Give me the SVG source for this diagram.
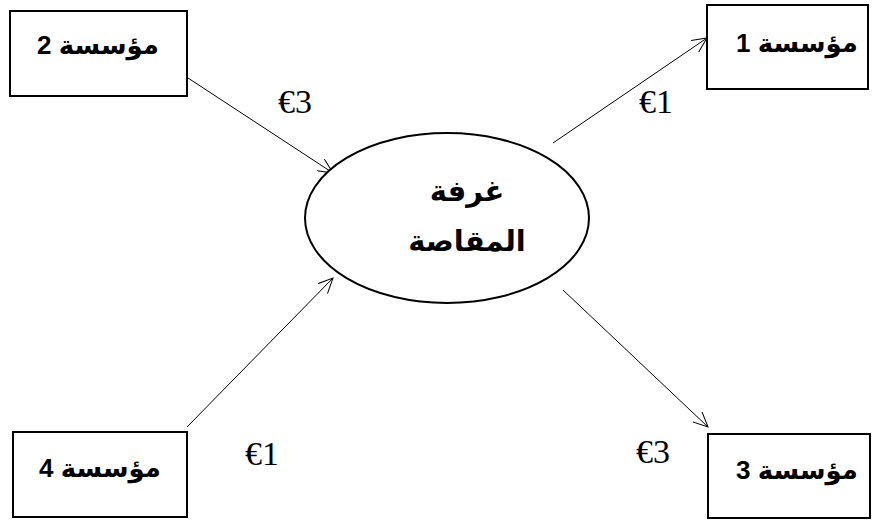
<svg xmlns="http://www.w3.org/2000/svg" width="876" height="521" viewBox="0 0 876 521">
<style>
.box{fill:#fff;stroke:#000;stroke-width:2}
.lbl{font-family:"Liberation Sans","DejaVu Sans",sans-serif;font-weight:bold;font-size:26px;fill:#000;text-anchor:middle}
.big{font-size:29px}
.eu{font-family:"Liberation Serif","Times New Roman",serif;font-size:34px;fill:#000}
.cn{stroke:#000;stroke-width:1;fill:none}
</style>
<defs>
<marker id="arr" viewBox="0 0 16 14" refX="15" refY="7" markerWidth="16" markerHeight="14" markerUnits="userSpaceOnUse" orient="auto">
<path d="M0,0 L15,7 L0,14" fill="none" stroke="#000" stroke-width="1"/>
</marker>
</defs>
<rect width="876" height="521" fill="#fff"/>
<g id="connectors">
<line class="cn" x1="188" y1="78" x2="333" y2="173" marker-end="url(#arr)"/>
<line class="cn" x1="553" y1="143" x2="707" y2="38" marker-end="url(#arr)"/>
<line class="cn" x1="187" y1="427" x2="333" y2="278" marker-end="url(#arr)"/>
<line class="cn" x1="563" y1="290" x2="708" y2="427" marker-end="url(#arr)"/>
</g>
<g id="clearing">
<ellipse cx="447" cy="218" rx="142" ry="85" fill="#fff" stroke="#000" stroke-width="2"/>
<text class="lbl big" x="467" y="201">غرفة</text>
<text class="lbl big" x="467" y="251">المقاصة</text>
</g>
<g id="firm2">
<rect class="box" x="10" y="11" width="177" height="85"/>
<text class="lbl" x="98" y="54">مؤسسة 2</text>
</g>
<g id="firm1">
<rect class="box" x="707" y="5" width="161" height="84"/>
<text class="lbl" x="797" y="52">مؤسسة 1</text>
</g>
<g id="firm4">
<rect class="box" x="13" y="432" width="174" height="85"/>
<text class="lbl" x="100" y="477">مؤسسة 4</text>
</g>
<g id="firm3">
<rect class="box" x="708" y="434" width="162" height="84"/>
<text class="lbl" x="797" y="479">مؤسسة 3</text>
</g>
<g id="labels">
<text class="eu" x="278" y="113">€3</text>
<text class="eu" x="639" y="113">€1</text>
<text class="eu" x="245" y="465">€1</text>
<text class="eu" x="636" y="463">€3</text>
</g>
</svg>
